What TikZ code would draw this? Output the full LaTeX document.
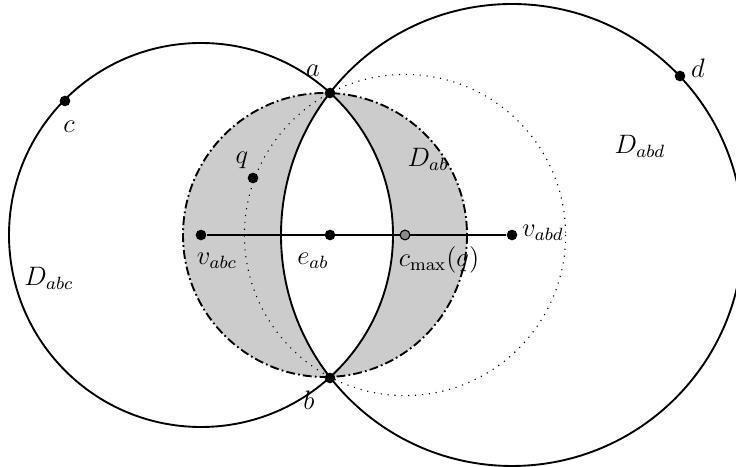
\documentclass[tikz,border=0pt]{standalone}
\begin{document}
\begin{tikzpicture}[x=0.45pt,y=-0.45pt,
  dot/.style={circle,fill=black,inner sep=0pt,minimum size=4.8pt},
  graydot/.style={circle,fill=black!45,draw=black,line width=0.5pt,inner sep=0pt,minimum size=4.4pt},
  bigcirc/.style={line width=0.85pt},
  dashdotcirc/.style={line width=0.85pt,dash pattern=on 4pt off 1.4pt on 0.8pt off 1.4pt},
  dotcirc/.style={line width=0.5pt,dash pattern=on 0.5pt off 2.6pt},
  lbl/.style={inner sep=0pt,font=\large}]
\useasboundingbox (0,0) rectangle (736,467);
\clip (0,0) rectangle (736,467);
% points
\coordinate (vabcC) at (201,235);
\coordinate (vabdC) at (512,235);
\coordinate (dabC) at (325,235);
\coordinate (cmC) at (405,235);
% gray region: D_ab minus lens
\fill[black!20] (dabC) circle[radius=142];
\begin{scope}
  \clip (vabcC) circle[radius=192];
  \fill[white] (vabdC) circle[radius=231];
\end{scope}
% circles
\draw[dashdotcirc] (dabC) circle[radius=142];
\draw[dotcirc] (cmC) circle[radius=160.6];
\draw[bigcirc] (vabcC) circle[radius=192];
\draw[bigcirc] (vabdC) circle[radius=231];
% nodes
\node[dot] (a) at (330,93) {};
\node[dot] (b) at (330,378) {};
\node[dot] (c) at (65,101) {};
\node[dot] (d) at (680,76) {};
\node[dot] (q) at (253,178) {};
\node[dot] (vabc) at (vabcC) {};
\node[dot] (eab) at (330,235) {};
\node[dot] (vabd) at (vabdC) {};
\draw[line width=0.85pt] (vabc) -- (vabd);
\node[graydot] (cm) at (cmC) {};
% labels
\node[lbl] (la) at (313,71) {$a$};
\node[lbl] (lb) at (309,400) {$b$};
\node[lbl] (lc) at (69,127) {$c$};
\node[lbl] (ld) at (698,68) {$d$};
\node[lbl] (lq) at (242,160) {$q$};
\node[lbl] (lDab) at (428,159) {$D_{ab}$};
\node[lbl] (lDabd) at (640,146) {$D_{abd}$};
\node[lbl] (lDabc) at (49,278) {$D_{abc}$};
\node[lbl] (lvabc) at (217,261) {$v_{abc}$};
\node[lbl] (leab) at (313,261) {$e_{ab}$};
\node[lbl] (lcm) at (439,260) {$c_{\max}(q)$};
\node[lbl] (lvabd) at (543,233) {$v_{abd}$};
\end{tikzpicture}
\end{document}
